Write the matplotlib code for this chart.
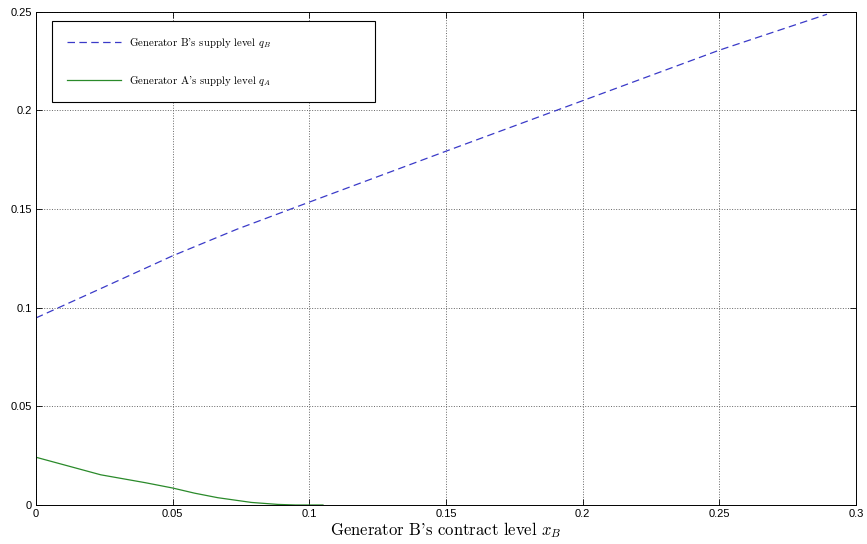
import matplotlib.pyplot as plt
import numpy as np

# values
xb_blue = [0.0, 0.025, 0.05, 0.0736, 0.1, 0.15, 0.2, 0.25, 0.2894]
qb = [0.0948, 0.1105, 0.1263, 0.1398, 0.1535, 0.1793, 0.2049, 0.2305, 0.2487]

xb_green = [0.0, 0.0237, 0.04, 0.05, 0.058, 0.0665, 0.0788, 0.0884, 0.095, 0.105]
qa = [0.0242, 0.0153, 0.0113, 0.0086, 0.0060, 0.0037, 0.0013, 0.0003, 0.0, 0.0]

xticks = [0, 0.05, 0.1, 0.15, 0.2, 0.25, 0.3]
yticks = [0, 0.05, 0.1, 0.15, 0.2, 0.25]

plt.rcParams['mathtext.fontset'] = 'cm'

fig = plt.figure(figsize=(8.67, 5.44), dpi=100)
ax = fig.add_axes([0.0415, 0.0717, 0.9458, 0.9068])

ax.plot(xb_blue, qb, '--', color='#3a3ac8', lw=0.9, dashes=(6, 3.5),
        label=r"Generator B's supply level $q_B$")
ax.plot(xb_green, qa, '-', color='#2a8a2a', lw=0.9,
        label=r"Generator A's supply level $q_A$")

ax.set_xlim(0, 0.3)
ax.set_ylim(0, 0.25)
ax.set_xticks(xticks)
ax.set_yticks(yticks)
ax.set_xticklabels(['0', '0.05', '0.1', '0.15', '0.2', '0.25', '0.3'],
                   family='Liberation Sans')
ax.set_yticklabels(['0', '0.05', '0.1', '0.15', '0.2', '0.25'],
                   family='Liberation Sans')
ax.tick_params(direction='in', top=True, right=True, labelsize=8,
               length=4, width=0.6, pad=3)
ax.grid(True, linestyle=':', color='#666666', lw=0.7)
for s in ax.spines.values():
    s.set_linewidth(0.7)

ax.set_xlabel(r"Generator B's contract level $x_B$", family='cmr10',
              fontsize=12, labelpad=1)

leg = ax.legend(loc='upper left', bbox_to_anchor=(0.0195, 0.981, 0.394, 0.0),
                mode='expand', fancybox=False, framealpha=1, edgecolor='black',
                prop={'family': 'cmr10', 'size': 7.8},
                handlelength=5.0, labelspacing=2.2, borderpad=1.35,
                handletextpad=0.8, borderaxespad=0.0)
leg.get_frame().set_linewidth(0.8)

fig.savefig('out.png', dpi=100)
